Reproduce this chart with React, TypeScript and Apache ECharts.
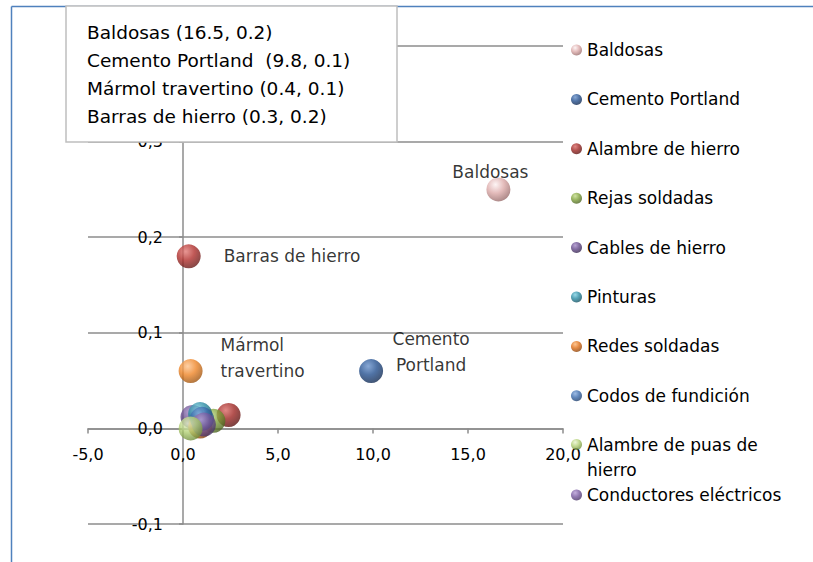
import React, { useEffect, useRef } from "react";
import * as echarts from "echarts";

const seriesNames = [
  "Baldosas",
  "Cemento Portland",
  "Alambre de hierro",
  "Rejas soldadas",
  "Cables de hierro",
  "Pinturas",
  "Redes soldadas",
  "Codos de fundición",
  "Alambre de puas de hierro",
  "Conductores eléctricos",
  "Barras de hierro",
  "Mármol travertino",
];
const xValues = [16.6, 9.9, 2.4, 1.6, 0.5, 0.9, 0.9, 1.0, 0.4, 1.1, 0.3, 0.4];
const yValues = [0.25, 0.06, 0.014, 0.008, 0.012, 0.015, 0.002, 0.01, 0.0, 0.004, 0.18, 0.06];
const dataLabels = ["Baldosas", "Cemento\nPortland", "", "", "", "", "", "", "", "", "Barras de hierro", "Mármol\ntravertino"];
const legendMain = seriesNames.slice(0, 8);
const legendNinth = ["Alambre de puas de hierro"];
const legendTenth = ["Conductores eléctricos"];
const infoLines = [
  "Baldosas (16.5, 0.2)",
  "Cemento Portland  (9.8, 0.1)",
  "Mármol travertino (0.4, 0.1)",
  "Barras de hierro (0.3, 0.2)",
];
const xTicks = { min: -5, max: 20, interval: 5 };
const yTicks = { min: -0.1, max: 0.4, interval: 0.1 };

const palette: string[][] = [
  ["#fdf2f2", "#dcaaa9", "#8a5f5e"],
  ["#6a93cc", "#24508f", "#0f2345"],
  ["#d96a66", "#9e2623", "#4d0f0d"],
  ["#c4dc8a", "#7fa13a", "#3f541b"],
  ["#a58bc8", "#634889", "#2d1f42"],
  ["#7fd0e2", "#2a8aa2", "#114653"],
  ["#fdb877", "#df6e16", "#7a3a08"],
  ["#86abdd", "#3a6aab", "#1a355c"],
  ["#e9f4cf", "#b2d075", "#62802f"],
  ["#b59cd4", "#785aa0", "#3d2b57"],
  ["#e27c78", "#b02f2c", "#581513"],
  ["#fdc48f", "#ee8527", "#8d4a0c"],
];

const labelOffsets: Record<string, any> = {
  Baldosas: { offset: [-8, -17], align: "center" },
  "Cemento Portland": { offset: [60, -19], align: "center" },
  "Barras de hierro": { offset: [35, 0], align: "left" },
  "Mármol travertino": { offset: [30, -13], align: "left" },
};

const FONT = "DejaVu Sans";
const GRID = { left: 88, right: 250, top: 46, bottom: 38 };
const W = 813;
const H = 562;
const gridW = W - GRID.left - GRID.right;
const gridH = H - GRID.top - GRID.bottom;
// place each axis at the other axis's zero
const yAxisOffset = -(gridW * (0 - xTicks.min)) / (xTicks.max - xTicks.min);
const xAxisOffset = -(gridH * (0 - yTicks.min)) / (yTicks.max - yTicks.min);

function sphere(c: string[]) {
  return {
    type: "radial",
    x: 0.38,
    y: 0.3,
    r: 0.8,
    colorStops: [
      { offset: 0, color: c[0] },
      { offset: 0.45, color: c[1] },
      { offset: 1, color: c[2] },
    ],
  };
}

const fmt = (v: number) => (Math.abs(v) < 1e-9 ? 0 : v).toFixed(1).replace(".", ",");
// the top y label sits under the annotation box in the reference
const fmtY = (v: number) => (v >= yTicks.max - 1e-9 ? "" : fmt(v));

export default function App() {
  const ref = useRef<HTMLDivElement>(null);
  useEffect(() => {
    if (!ref.current) return;
    const chart = echarts.init(ref.current, null, { renderer: "svg" });
    const series = seriesNames.map((name, i) => {
      const lo = labelOffsets[name];
      return {
        name,
        type: "scatter",
        symbol: "circle",
        symbolSize: 24,
        z: name === "Alambre de puas de hierro" ? 3 : 2,
        itemStyle: { color: sphere(palette[i]) },
        data: [[xValues[i], yValues[i]]],
        label: lo
          ? {
              show: true,
              position: "inside",
              formatter: dataLabels[i],
              offset: lo.offset,
              align: lo.align,
              verticalAlign: "middle",
              fontFamily: FONT,
              fontSize: 17,
              lineHeight: 26,
              color: "#000",
            }
          : { show: false },
      };
    });
    const legendText = { fontFamily: FONT, fontSize: 17, color: "#000", lineHeight: 20 };
    const gridLine = { color: "#8c8c8c", width: 1.5 };
    const option: any = {
      animation: false,
      backgroundColor: "#fff",
      textStyle: { fontFamily: FONT },
      grid: { ...GRID, containLabel: false },
      xAxis: {
        type: "value",
        min: xTicks.min,
        max: xTicks.max,
        interval: xTicks.interval,
        offset: xAxisOffset,
        axisLine: { show: true, onZero: false, lineStyle: gridLine },
        axisTick: { show: true, length: 5, lineStyle: gridLine },
        axisLabel: { formatter: fmt, fontFamily: FONT, fontSize: 16, color: "#000", margin: 18 },
        splitLine: { show: false },
      },
      yAxis: {
        type: "value",
        min: yTicks.min,
        max: yTicks.max,
        interval: yTicks.interval,
        offset: yAxisOffset,
        axisLine: { show: true, onZero: false, lineStyle: gridLine },
        axisTick: { show: true, length: 4, lineStyle: gridLine },
        axisLabel: { formatter: fmtY, fontFamily: FONT, fontSize: 16, color: "#000", margin: 20 },
        splitLine: { show: true, lineStyle: gridLine },
      },
      legend: [
        {
          data: legendMain,
          orient: "vertical",
          left: 571,
          top: 40,
          padding: 0,
          itemWidth: 11,
          itemHeight: 11,
          itemGap: 29.4,
          icon: "circle",
          selectedMode: false,
          textStyle: legendText,
        },
        {
          data: legendNinth,
          orient: "vertical",
          left: 571,
          top: 407,
          padding: 0,
          itemWidth: 11,
          itemHeight: 11,
          icon: "circle",
          selectedMode: false,
          formatter: () => "\nAlambre de puas de\nhierro",
          textStyle: { ...legendText, lineHeight: 25 },
        },
        {
          data: legendTenth,
          orient: "vertical",
          left: 571,
          top: 485,
          padding: 0,
          itemWidth: 11,
          itemHeight: 11,
          icon: "circle",
          selectedMode: false,
          textStyle: legendText,
        },
      ],
      graphic: [
        {
          type: "line",
          z: 100,
          shape: { x1: 11.5, y1: 6.5, x2: 813, y2: 6.5 },
          style: { stroke: "#4f81bd", lineWidth: 1.5 },
        },
        {
          type: "line",
          z: 100,
          shape: { x1: 11.5, y1: 6.5, x2: 11.5, y2: 562 },
          style: { stroke: "#4f81bd", lineWidth: 1.5 },
        },
        {
          type: "rect",
          z: 101,
          shape: { x: 66, y: 6, width: 331, height: 136 },
          style: { fill: "#ffffff", stroke: "#bfbfbf", lineWidth: 1.5 },
        },
        ...infoLines.map((t, i) => ({
          type: "text",
          z: 102,
          x: 87,
          y: 32 + i * 28,
          style: {
            text: t,
            fontFamily: FONT,
            fontSize: 18.5,
            fill: "#000",
            verticalAlign: "middle",
          },
        })),
      ],
      series,
    };
    chart.setOption(option);
    return () => chart.dispose();
  }, []);
  return <div ref={ref} style={{ position: "absolute", left: 0, top: 0, width: W, height: H }} />;
}
